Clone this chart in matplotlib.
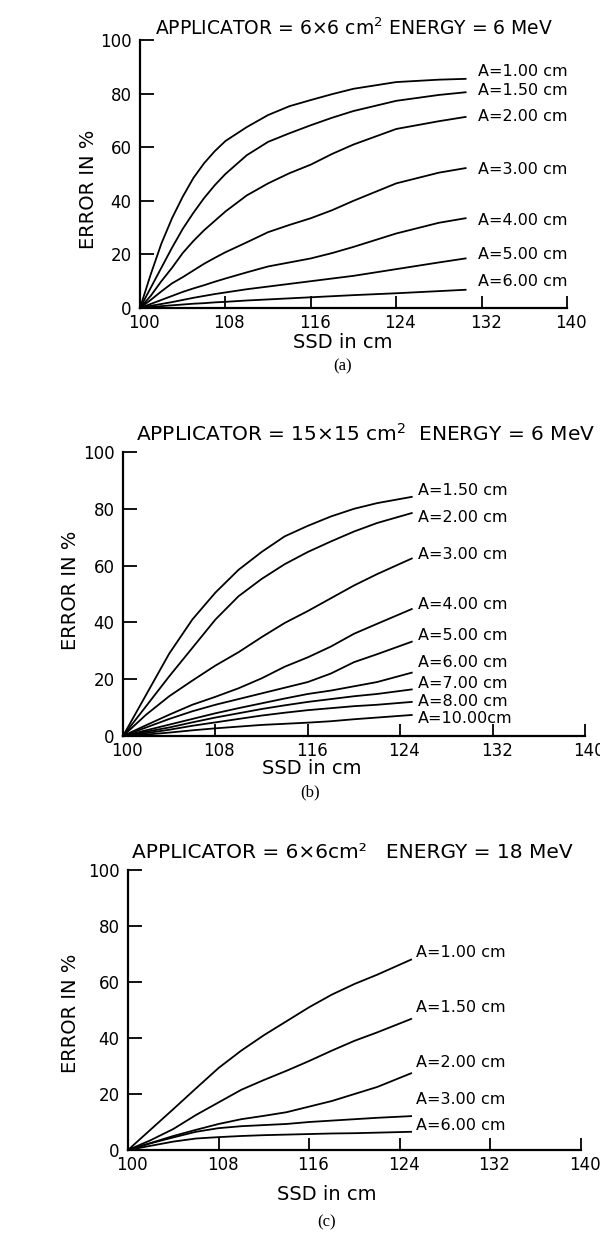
import matplotlib
matplotlib.use('Agg')
import matplotlib.pyplot as plt
import matplotlib.transforms as mtransforms

plt.rcParams['font.family'] = ['DejaVu Sans']

# panel (a): 6x6 cm2, 6 MeV
ssd_a = [100, 101, 102, 103, 104, 105, 106, 107, 108, 110, 112, 114, 116, 118, 120, 124, 128, 130.5]
err_a = {
    'A=1.00 cm': [0, 12.5, 24, 33.5, 41.5, 48.5, 54, 58.5, 62.3, 67.5, 72, 75.3, 77.6, 79.8, 81.8, 84.3, 85.2, 85.5],
    'A=1.50 cm': [0, 7.5, 15, 22.5, 29.5, 35.5, 41, 45.8, 50, 57, 62, 65.2, 68.2, 71, 73.5, 77.3, 79.5, 80.5],
    'A=2.00 cm': [0, 4.5, 10, 15, 20.5, 25, 29, 32.5, 36, 42, 46.5, 50.3, 53.5, 57.5, 61, 66.8, 69.7, 71.3],
    'A=3.00 cm': [0, 3, 6.2, 9.2, 11.5, 14, 16.5, 18.7, 20.8, 24.5, 28.3, 31, 33.5, 36.5, 40, 46.5, 50.5, 52.2],
    'A=4.00 cm': [0, 1.5, 3, 4.5, 6, 7.3, 8.5, 9.8, 11, 13.3, 15.5, 17, 18.5, 20.5, 22.8, 27.8, 31.8, 33.5],
    'A=5.00 cm': [0, 0.8, 1.5, 2.2, 3, 3.8, 4.5, 5.2, 5.8, 7, 8, 9, 10, 11, 12, 14.5, 17, 18.5],
    'A=6.00 cm': [0, 0.3, 0.7, 1, 1.3, 1.6, 1.8, 2.1, 2.3, 2.8, 3.2, 3.6, 4, 4.4, 4.8, 5.5, 6.3, 6.8],
}

# panel (b): 15x15 cm2, 6 MeV
ssd_b = [100, 102, 104, 106, 108, 110, 112, 114, 116, 118, 120, 122, 125]
err_b = {
    'A=1.50 cm': [0, 14.5, 29, 41, 50.5, 58.5, 64.8, 70.3, 74, 77.3, 80, 82, 84.2],
    'A=2.00 cm': [0, 10.5, 21, 31, 41, 49.2, 55.3, 60.5, 64.8, 68.5, 72, 75, 78.5],
    'A=3.00 cm': [0, 7.5, 14, 19.5, 24.8, 29.5, 34.8, 39.8, 44, 48.5, 53, 57, 62.5],
    'A=4.00 cm': [0, 3.8, 7.5, 11, 13.8, 16.8, 20.3, 24.4, 27.7, 31.5, 36, 39.5, 44.7],
    'A=5.00 cm': [0, 3, 6, 8.7, 11, 13, 15, 17, 19, 22, 26, 28.8, 33.2],
    'A=6.00 cm': [0, 2, 4, 6, 8, 9.8, 11.5, 13.2, 14.8, 16, 17.5, 19, 22.3],
    'A=7.00 cm': [0, 1.5, 3, 4.8, 6.5, 8, 9.5, 10.8, 12, 13, 14, 14.8, 16.4],
    'A=8.00 cm': [0, 1, 2.2, 3.6, 4.8, 6, 7.2, 8.2, 9.1, 9.8, 10.5, 11, 12],
    'A=10.00cm': [0, 0.5, 1.2, 2, 2.7, 3.3, 3.9, 4.3, 4.7, 5.2, 5.9, 6.5, 7.4],
}

# panel (c): 6x6 cm2, 18 MeV
ssd_c = [100, 102, 104, 106, 108, 110, 112, 114, 116, 118, 120, 122, 125]
err_c = {
    'A=1.00 cm': [0, 7.3, 14.6, 22, 29.3, 35.5, 41, 46, 51, 55.5, 59.3, 62.6, 68],
    'A=1.50 cm': [0, 3.5, 7.5, 12.5, 17, 21.5, 25, 28.3, 31.8, 35.5, 39, 42, 46.8],
    'A=2.00 cm': [0, 2.5, 5, 7.2, 9.3, 11, 12.2, 13.5, 15.5, 17.5, 20, 22.5, 27.4],
    'A=3.00 cm': [0, 2.4, 4.5, 6.5, 7.8, 8.5, 8.9, 9.3, 10, 10.5, 11, 11.5, 12.1],
    'A=6.00 cm': [0, 1.5, 3, 4.1, 4.6, 5, 5.3, 5.5, 5.7, 5.9, 6, 6.2, 6.5],
}

x_ticks = [100, 108, 116, 124, 132, 140]
y_ticks = [0, 20, 40, 60, 80, 100]

# where the curve names sit (data coords)
lab_a = (131.7, [88.3, 81, 71.4, 51.5, 32.8, 19.8, 9.8])
lab_b = (125.5, [86.5, 76.9, 64, 46.4, 35.5, 25.9, 18.5, 12.3, 6.2])
lab_c = (125.4, [70.5, 51, 31.3, 17.9, 8.9])

W, H = 600, 1235
fig = plt.figure(figsize=(W / 100, H / 100), dpi=100)


def px(x, y):
    return x / W, 1 - y / H


def panel(rect, ssd, errs, lab):
    l, t, r, b = rect
    ax = fig.add_axes([l / W, 1 - b / H, (r - l) / W, (b - t) / H])
    for name, vals in errs.items():
        ax.plot(ssd, vals, color='black', lw=1.3, clip_on=False,
                solid_joinstyle='round')
    lx, ly = lab
    for name, y in zip(errs.keys(), ly):
        ax.text(lx, y, name, fontsize=11.5, ha='left', va='center')
    ax.set_xlim(100, 140)
    ax.set_ylim(0, 100)
    ax.set_xticks(x_ticks, [str(v) for v in x_ticks])
    ax.set_yticks(y_ticks, [str(v) for v in y_ticks])
    ax.tick_params(axis='both', direction='in', labelsize=12, width=1.3)
    ax.tick_params(axis='y', length=10, pad=6)
    ax.tick_params(axis='x', length=9, pad=4)
    # x labels sit a little right of their ticks in the original
    shift = mtransforms.ScaledTranslation(4 / 100, 0, fig.dpi_scale_trans)
    for lbl in ax.get_xticklabels():
        lbl.set_transform(lbl.get_transform() + shift)
    for s in ['top', 'right']:
        ax.spines[s].set_visible(False)
    for s in ['left', 'bottom']:
        ax.spines[s].set_linewidth(1.6)
    return ax


panel((140, 40, 567, 308), ssd_a, err_a, lab_a)
panel((123, 452, 585, 736), ssd_b, err_b, lab_b)
panel((128, 870, 581, 1150), ssd_c, err_c, lab_c)

titles = [
    ((155, 28), 'APPLICATOR = 6×6 cm$^2$ ENERGY = 6 MeV', 13.5),
    ((136, 434), 'APPLICATOR = 15×15 cm$^2$  ENERGY = 6 MeV', 14.5),
    ((132, 853), 'APPLICATOR = 6×6cm²   ENERGY = 18 MeV', 14.5),
]
for (x, y), s, fs in titles:
    fig.text(*px(x, y), s, fontsize=fs, ha='left', va='center')

for (x, y) in [(88, 189), (70, 590), (71, 1013)]:
    fig.text(*px(x, y), 'ERROR IN %', fontsize=14, rotation=90,
             ha='center', va='center')

for (x, y) in [(343, 343), (312, 769), (327, 1194)]:
    fig.text(*px(x, y), 'SSD in cm', fontsize=14, ha='center', va='center')

for (x, y), s in [((343, 366), '(a)'), ((310, 792), '(b)'), ((327, 1222), '(c)')]:
    fig.text(*px(x, y), s, fontsize=12, ha='center', va='center',
             family='Liberation Serif')

fig.savefig('out.png', dpi=100)
